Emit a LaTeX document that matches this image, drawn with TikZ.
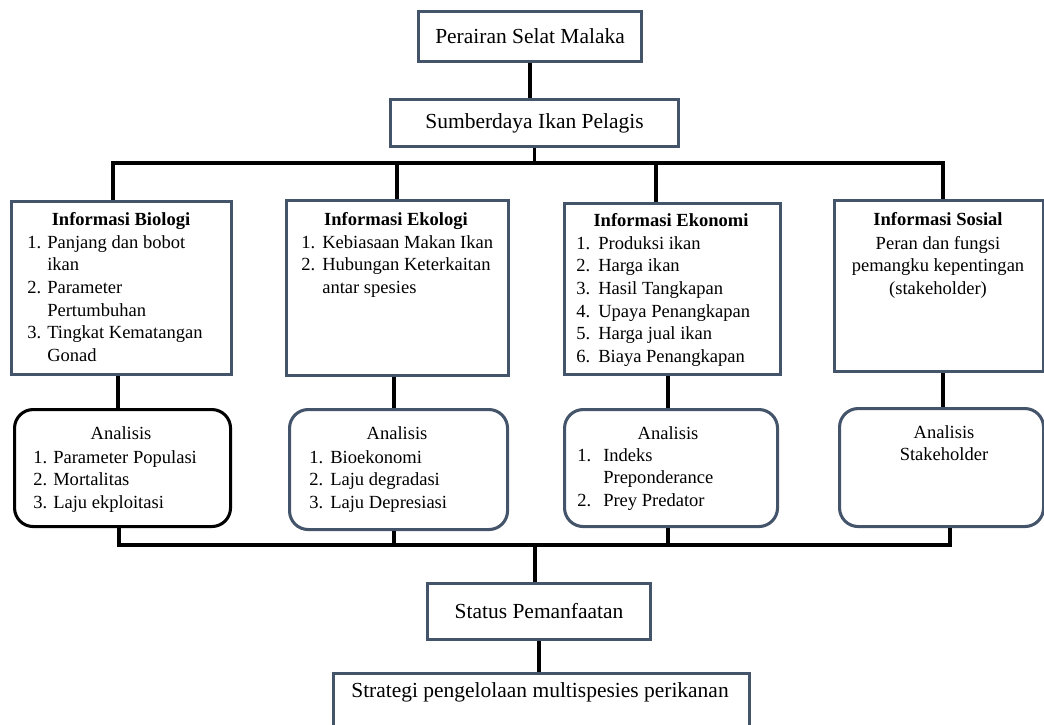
\documentclass[tikz,border=0pt]{standalone}
\usepackage{fontspec}
\setmainfont{Liberation Serif}
\usepackage{array}
\definecolor{slate}{HTML}{44546A}
\tikzset{
  box/.style={draw=slate, line width=2.3pt, fill=white, inner sep=0pt, anchor=north west},
  rbox/.style={box, rounded corners=14pt},
  wire/.style={draw=black, line width=2.6pt},
  title/.style={font=\fontsize{16.1}{19}\selectfont, inner sep=0pt},
  body/.style={font=\fontsize{13.9}{17}\selectfont, inner sep=0pt},
}
\begin{document}
\begin{tikzpicture}[x=0.75pt,y=-0.75pt]
\useasboundingbox (0,0) rectangle (1044,724);
\clip (0,0) rectangle (1044,724);

% coordinates for buses
\coordinate (dB) at (113,163);
\coordinate (dE) at (397,163);
\coordinate (dN) at (656,163);
\coordinate (dS) at (943,163);
\coordinate (m1) at (118,390);
\coordinate (m2) at (394,390);
\coordinate (m3) at (668,390);
\coordinate (m4) at (943,390);
\coordinate (b1) at (119,545);
\coordinate (b2) at (394,545);
\coordinate (b3) at (668,545);
\coordinate (b4) at (950,545);
\coordinate (bc) at (535,545);

% boxes
\node[box, title, minimum width=167.25pt, minimum height=37.5pt] (per) at (417,10) {Perairan Selat Malaka};
\node[box, title, minimum width=216pt, minimum height=35.25pt] (sum) at (389,98) {Sumberdaya Ikan Pelagis};

\node[box, minimum width=165pt, minimum height=129.75pt] (bio) at (10,200) {};
\node[box, minimum width=166.5pt, minimum height=131.25pt] (eko) at (285,199) {};
\node[box, minimum width=162pt, minimum height=128.25pt] (ekn) at (563,202) {};
\node[box, minimum width=156.75pt, minimum height=128.25pt] (sos) at (833,199) {};

\node[rbox, draw=black, minimum width=162pt, minimum height=87.75pt] (abio) at (13,408) {};
\node[rbox, minimum width=163.5pt, minimum height=90pt] (aeko) at (288,408) {};
\node[rbox, minimum width=159.75pt, minimum height=87.75pt] (aekn) at (563,408) {};
\node[rbox, minimum width=153pt, minimum height=88.5pt] (asos) at (838,407) {};

\node[box, title, minimum width=167.25pt, minimum height=42pt] (stat) at (426,582) {Status Pemanfaatan};
\node[box, minimum width=312pt, minimum height=54.75pt] (strat) at (332,672) {};
\node[title, anchor=center] (stratT) at (540,692) {Strategi pengelolaan multispesies perikanan};

% box texts
\node[body, anchor=base] (bioH) at (121,225) {\textbf{Informasi Biologi}};
\node[body, anchor=base west] (bioL) at (27,248) {\begin{tabular}[t]{@{}p{15pt}@{}l@{}}
1. & Panjang dan bobot\\ & ikan\\ 2. & Parameter\\ & Pertumbuhan\\ 3. & Tingkat Kematangan\\ & Gonad\end{tabular}};

\node[body, anchor=base] (ekoH) at (396,225) {\textbf{Informasi Ekologi}};
\node[body, anchor=base west] (ekoL) at (301,248) {\begin{tabular}[t]{@{}p{15.75pt}@{}l@{}}
1. & Kebiasaan Makan Ikan\\ 2. & Hubungan Keterkaitan\\ & antar spesies\end{tabular}};

\node[body, anchor=base] (eknH) at (671,226) {\textbf{Informasi Ekonomi}};
\node[body, anchor=base west] (eknL) at (576,249) {\begin{tabular}[t]{@{}p{16.5pt}@{}l@{}}
1. & Produksi ikan\\ 2. & Harga ikan\\ 3. & Hasil Tangkapan\\ 4. & Upaya Penangkapan\\ 5. & Harga jual ikan\\ 6. & Biaya Penangkapan\end{tabular}};

\node[body, anchor=base] (sosH) at (938,225) {\textbf{Informasi Sosial}};
\node[body, anchor=base] (sosL) at (938,249) {\begin{tabular}[t]{@{}c@{}}
Peran dan fungsi\\ pemangku kepentingan\\ (stakeholder)\end{tabular}};

\node[body, anchor=base] (abioH) at (121,439) {Analisis};
\node[body, anchor=base west] (abioL) at (33,463) {\begin{tabular}[t]{@{}p{15pt}@{}l@{}}
1. & Parameter Populasi\\ 2. & Mortalitas\\ 3. & Laju ekploitasi\end{tabular}};

\node[body, anchor=base] (aekoH) at (397,439) {Analisis};
\node[body, anchor=base west] (aekoL) at (309,463) {\begin{tabular}[t]{@{}p{15.75pt}@{}l@{}}
1. & Bioekonomi\\ 2. & Laju degradasi\\ 3. & Laju Depresiasi\end{tabular}};

\node[body, anchor=base] (aeknH) at (668,439) {Analisis};
\node[body, anchor=base west] (aeknL) at (577,461) {\begin{tabular}[t]{@{}p{19.5pt}@{}l@{}}
1. & Indeks\\ & Preponderance\\ 2. & Prey Predator\end{tabular}};

\node[body, anchor=base] (asosL) at (944,438) {\begin{tabular}[t]{@{}c@{}}
Analisis\\ Stakeholder\end{tabular}};

% connectors
\draw[wire] (per.south) -- (per.south |- sum.north);
\draw[wire] (sum.south) -- (sum.south |- dB);
\draw[wire] (bio.north -| dB) -- (dB) -- (dS) -- (dS |- sos.north);
\draw[wire] (dE) -- (dE |- eko.north);
\draw[wire] (dN) -- (dN |- ekn.north);

\draw[wire] (bio.south -| m1) -- (m1 |- abio.north);
\draw[wire] (eko.south -| m2) -- (m2 |- aeko.north);
\draw[wire] (ekn.south -| m3) -- (m3 |- aekn.north);
\draw[wire] (sos.south -| m4) -- (m4 |- asos.north);

\draw[wire] (abio.south -| b1) -- (b1) -- (b4) -- (b4 |- asos.south);
\draw[wire] (aeko.south -| b2) -- (b2);
\draw[wire] (aekn.south -| b3) -- (b3);
\draw[wire] (bc) -- (bc |- stat.north);
\draw[wire] (stat.south) -- (stat.south |- strat.north);
\end{tikzpicture}
\end{document}
